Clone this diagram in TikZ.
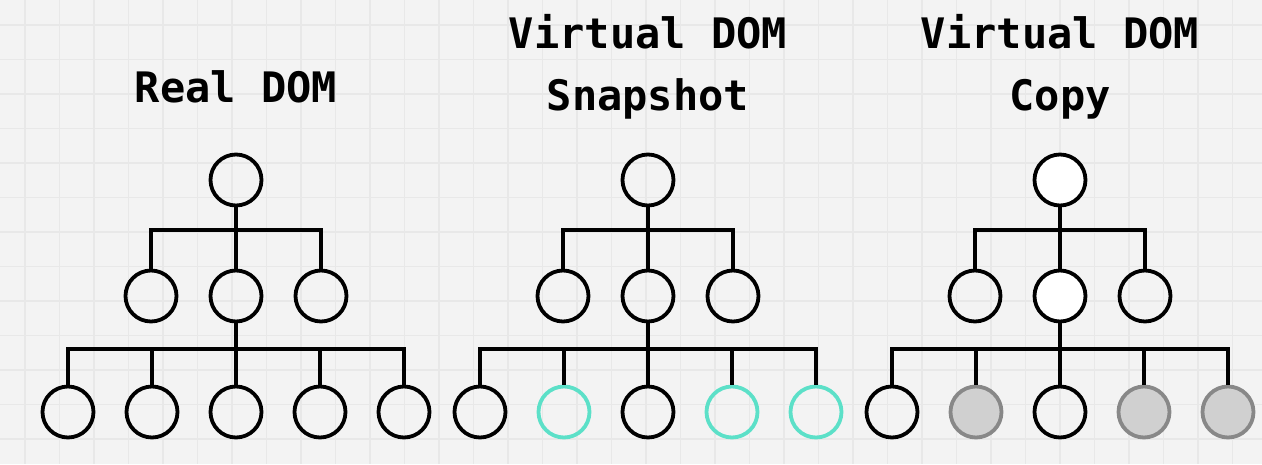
\documentclass[tikz,border=0pt]{standalone}
\usepackage{fontspec}
\setmonofont{DejaVu Sans Mono}
\definecolor{gridbg}{RGB}{243, 243, 243}
\definecolor{gridrule}{RGB}{232, 232, 232}
\definecolor{snapteal}{RGB}{92, 224, 200}
\definecolor{copygray}{RGB}{208, 208, 208}
\definecolor{copyedge}{RGB}{136, 136, 136}
\usepackage{tikz}
\usetikzlibrary{positioning}

\tikzset{
  domnode/.style={circle, draw=black, line width=3.8pt, minimum size=51pt, inner sep=0pt},
  synced/.style={draw=snapteal},
  copied/.style={draw=copyedge, fill=copygray},
  solid white/.style={fill=white},
  tree/.style={line width=3.8pt},
  title/.style={font=\ttfamily\bfseries\fontsize{42}{62}\selectfont, align=center, anchor=base}
}

\begin{document}
\begin{tikzpicture}[x=1pt, y=-1pt]
                    \useasboundingbox (0, 0) rectangle (1262, 464);
                    % background grid
                    \fill[gridbg] (0, 0) rectangle (1262, 464);
                    \foreach \k in {0,...,35}
                        \draw[gridrule, line width=1.3pt] ({25+34.5*\k}, 0) -- ({25+34.5*\k}, 464);
                    \foreach \k in {0,...,12}
                        \draw[gridrule, line width=1.3pt] (0, {25+34.5*\k}) -- (1262, {25+34.5*\k});

                    % Real DOM
                    \node[title] (realtitle) at (236, 102) {Real DOM};
                    \node[domnode] (realroot) at (236, 180) {};
                    \coordinate (realjoin) at (236, 230);
                    \node[domnode] (realmid1) at (151, 296) {};
                    \node[domnode] (realmid2) at (236, 296) {};
                    \node[domnode] (realmid3) at (321, 296) {};
                    \coordinate (realjoin2) at (236, 349);
                    \node[domnode] (realleaf1) at (68, 412) {};
                    \node[domnode] (realleaf2) at (152, 412) {};
                    \node[domnode] (realleaf3) at (236, 412) {};
                    \node[domnode] (realleaf4) at (320, 412) {};
                    \node[domnode] (realleaf5) at (404, 412) {};
                    \draw[tree] (realroot) -- (realjoin);
                    \draw[tree] (realjoin) -| (realmid1);
                    \draw[tree] (realjoin) -- (realmid2);
                    \draw[tree] (realjoin) -| (realmid3);
                    \draw[tree] (realmid2) -- (realjoin2);
                    \draw[tree] (realjoin2) -| (realleaf1);
                    \draw[tree] (realjoin2) -| (realleaf2);
                    \draw[tree] (realjoin2) -- (realleaf3);
                    \draw[tree] (realjoin2) -| (realleaf4);
                    \draw[tree] (realjoin2) -| (realleaf5);

                    % Virtual DOM snapshot
                    \node[title] (snaptitle) at (648, 110) {Virtual DOM\\Snapshot};
                    \node[domnode] (snaproot) at (648, 180) {};
                    \coordinate (snapjoin) at (648, 230);
                    \node[domnode] (snapmid1) at (563, 296) {};
                    \node[domnode] (snapmid2) at (648, 296) {};
                    \node[domnode] (snapmid3) at (733, 296) {};
                    \coordinate (snapjoin2) at (648, 349);
                    \node[domnode] (snapleaf1) at (480, 412) {};
                    \node[domnode, synced] (snapleaf2) at (564, 412) {};
                    \node[domnode] (snapleaf3) at (648, 412) {};
                    \node[domnode, synced] (snapleaf4) at (732, 412) {};
                    \node[domnode, synced] (snapleaf5) at (816, 412) {};
                    \draw[tree] (snaproot) -- (snapjoin);
                    \draw[tree] (snapjoin) -| (snapmid1);
                    \draw[tree] (snapjoin) -- (snapmid2);
                    \draw[tree] (snapjoin) -| (snapmid3);
                    \draw[tree] (snapmid2) -- (snapjoin2);
                    \draw[tree] (snapjoin2) -| (snapleaf1);
                    \draw[tree] (snapjoin2) -| (snapleaf2);
                    \draw[tree] (snapjoin2) -- (snapleaf3);
                    \draw[tree] (snapjoin2) -| (snapleaf4);
                    \draw[tree] (snapjoin2) -| (snapleaf5);

                    % Virtual DOM copy
                    \node[title] (copytitle) at (1060, 110) {Virtual DOM\\Copy};
                    \node[domnode, solid white] (copyroot) at (1060, 180) {};
                    \coordinate (copyjoin) at (1060, 230);
                    \node[domnode] (copymid1) at (975, 296) {};
                    \node[domnode, solid white] (copymid2) at (1060, 296) {};
                    \node[domnode] (copymid3) at (1145, 296) {};
                    \coordinate (copyjoin2) at (1060, 349);
                    \node[domnode] (copyleaf1) at (892, 412) {};
                    \node[domnode, copied] (copyleaf2) at (976, 412) {};
                    \node[domnode] (copyleaf3) at (1060, 412) {};
                    \node[domnode, copied] (copyleaf4) at (1144, 412) {};
                    \node[domnode, copied] (copyleaf5) at (1228, 412) {};
                    \draw[tree] (copyroot) -- (copyjoin);
                    \draw[tree] (copyjoin) -| (copymid1);
                    \draw[tree] (copyjoin) -- (copymid2);
                    \draw[tree] (copyjoin) -| (copymid3);
                    \draw[tree] (copymid2) -- (copyjoin2);
                    \draw[tree] (copyjoin2) -| (copyleaf1);
                    \draw[tree] (copyjoin2) -| (copyleaf2);
                    \draw[tree] (copyjoin2) -- (copyleaf3);
                    \draw[tree] (copyjoin2) -| (copyleaf4);
                    \draw[tree] (copyjoin2) -| (copyleaf5);
                \end{tikzpicture}
\end{document}
